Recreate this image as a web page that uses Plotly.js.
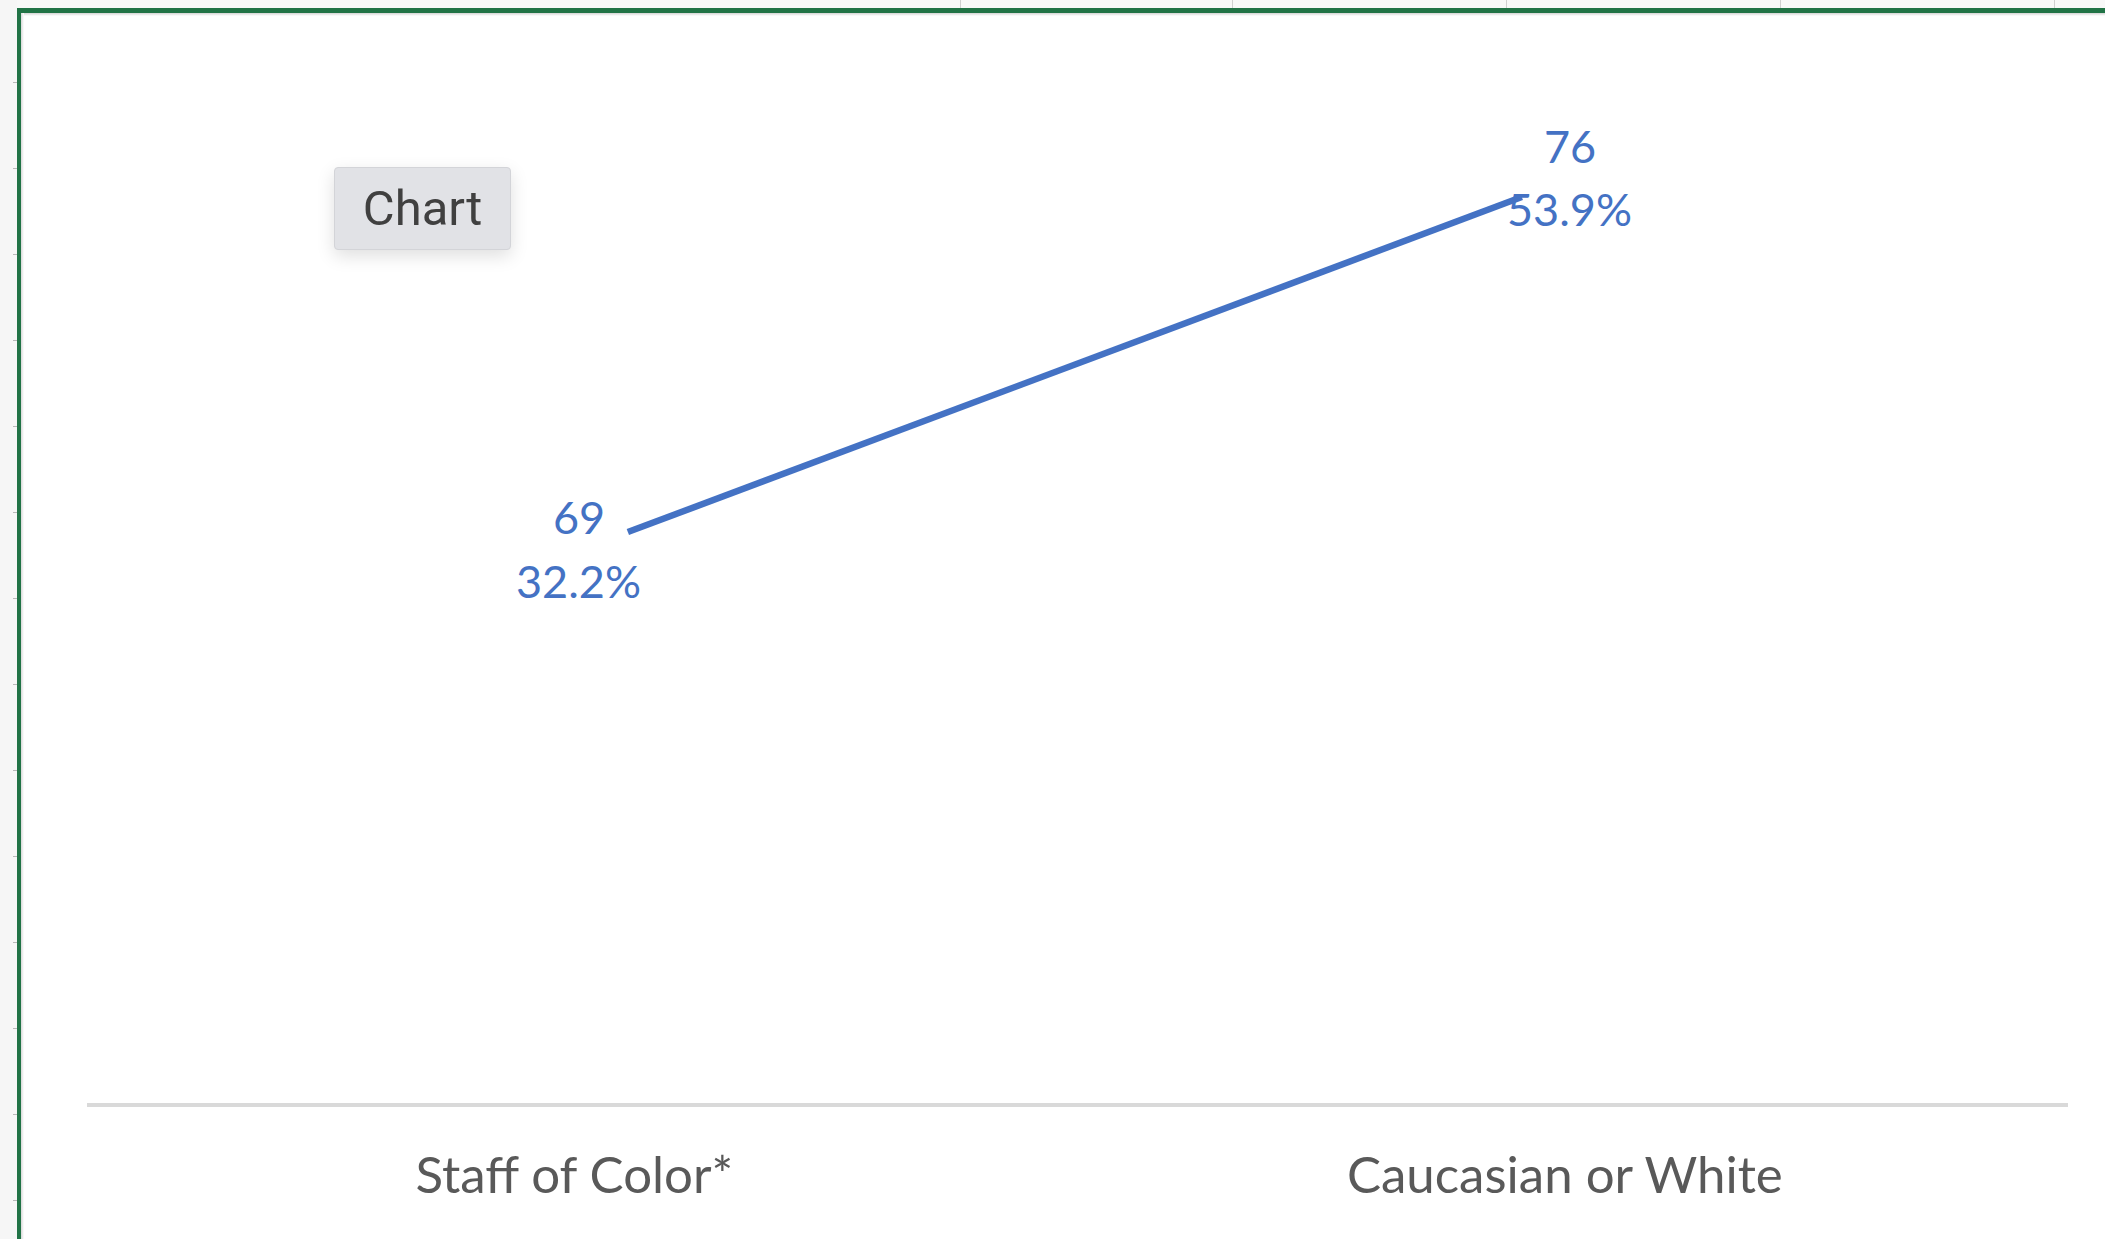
<!DOCTYPE html>
<html>
<head>
<meta charset="utf-8">
<script src="https://cdn.plot.ly/plotly-3.0.1.min.js"></script>
<style>
  html, body { margin: 0; padding: 0; background: #ffffff; width: 2105px; height: 1239px; overflow: hidden; }
  #frame { position: absolute; left: 0; top: 0; width: 2105px; height: 1239px; }
  .strip-left { position: absolute; left: 0; top: 0; width: 17px; height: 1239px; background: #f6f6f6; }
  .strip-top { position: absolute; left: 0; top: 0; width: 2105px; height: 8px; background: #f8f8f8; }
  .green-top { position: absolute; left: 17px; top: 8px; width: 2088px; height: 5px; background: #217346; }
  .green-left { position: absolute; left: 17px; top: 8px; width: 4px; height: 1231px; background: #217346; }
  .shadow-top { position: absolute; left: 21px; top: 13px; width: 2084px; height: 3px; background: linear-gradient(#d4d4d4, #ffffff); }
  .shadow-left { position: absolute; left: 21px; top: 13px; width: 3px; height: 1226px; background: linear-gradient(to right, #d8d8d8, #ffffff); }
  .tick-top { position: absolute; top: 0; width: 1px; height: 8px; background: #d0d0d0; }
  .tick-left { position: absolute; left: 13px; width: 4px; height: 1px; background: #b8b8b8; }
  #chart { position: absolute; left: 0; top: 0; width: 2105px; height: 1239px; }
  #btn { position: absolute; left: 334px; top: 167px; width: 175px; height: 81px;
         background: #e1e2e6; border: 1px solid #d3d4d8; border-radius: 4px;
         box-shadow: 0 6px 18px rgba(0,0,0,0.13);
         font-family: Roboto, "Noto Sans", sans-serif; font-size: 49px; color: #404040;
         display: flex; align-items: center; justify-content: center; }
</style>
</head>
<body>
<div id="frame">
  <div class="strip-top"></div>
  <div class="strip-left"></div>
  <div class="green-top"></div>
  <div class="green-left"></div>
  <div class="shadow-top"></div>
  <div class="shadow-left"></div>
</div>
<div id="chart"></div>
<div id="btn">Chart</div>
<script>
// ---- data ----
var categories = ["Staff of Color*", "Caucasian or White"];
var counts = [69, 76];
var percents = ["32.2%", "53.9%"];

// ---- decorative spreadsheet gridline ticks ----
var frame = document.getElementById('frame');
[960, 1232, 1506, 1780, 2054].forEach(function (x) {
  var d = document.createElement('div'); d.className = 'tick-top'; d.style.left = x + 'px'; frame.appendChild(d);
});
for (var yy = 82; yy < 1239; yy += 86) {
  var d = document.createElement('div'); d.className = 'tick-left'; d.style.top = yy + 'px'; frame.appendChild(d);
}

var idx = categories.map(function (_, i) { return i; });
var blue = '#4472c4';

var lineTrace = {
  x: idx,
  y: counts,
  xaxis: 'x',
  yaxis: 'y',
  type: 'scatter',
  mode: 'lines',
  line: { color: blue, width: 6.5 },
  hoverinfo: 'skip',
  showlegend: false
};

// carries the category axis (draws nothing itself)
var categoryTrace = {
  x: idx,
  y: counts,
  xaxis: 'x2',
  yaxis: 'y',
  type: 'scatter',
  mode: 'none',
  hoverinfo: 'skip',
  showlegend: false
};

var labelFont = { family: 'Lato, "Open Sans", sans-serif', size: 45, color: blue };
var xShifts = [-49, 48];
var countShifts = [15, 51];
var pctShifts = [-49, -12];

var annotations = [];
idx.forEach(function (i) {
  annotations.push({
    x: i, y: counts[i], xref: 'x', yref: 'y',
    text: String(counts[i]), showarrow: false,
    xanchor: 'center', yanchor: 'middle',
    xshift: xShifts[i], yshift: countShifts[i], font: labelFont
  });
  annotations.push({
    x: i, y: counts[i], xref: 'x', yref: 'y',
    text: percents[i], showarrow: false,
    xanchor: 'center', yanchor: 'middle',
    xshift: xShifts[i], yshift: pctShifts[i], font: labelFont
  });
});

var layout = {
  width: 2105, height: 1239,
  margin: { l: 87, r: 37, t: 20, b: 136, pad: 0 },
  paper_bgcolor: 'rgba(0,0,0,0)',
  plot_bgcolor: 'rgba(0,0,0,0)',
  showlegend: false,
  xaxis: {
    range: [-0.605, 1.611],
    showgrid: false, zeroline: false, showline: false,
    showticklabels: false, ticks: '', fixedrange: true
  },
  xaxis2: {
    overlaying: 'x', anchor: 'y', side: 'bottom',
    range: [-0.492, 1.508],
    tickmode: 'array', tickvals: idx, ticktext: categories,
    showgrid: false, zeroline: false,
    showline: true, linecolor: '#d9d9d9', linewidth: 4,
    ticks: '', ticklabelstandoff: 25,
    tickfont: { family: 'Lato, "Open Sans", sans-serif', size: 51, color: '#595959' },
    fixedrange: true
  },
  yaxis: {
    range: [57.07, 79.70],
    showgrid: false, zeroline: false, showline: false,
    showticklabels: false, ticks: '', fixedrange: true
  },
  annotations: annotations
};

Plotly.newPlot('chart', [lineTrace, categoryTrace], layout, { displayModeBar: false, staticPlot: true });
</script>
</body>
</html>
